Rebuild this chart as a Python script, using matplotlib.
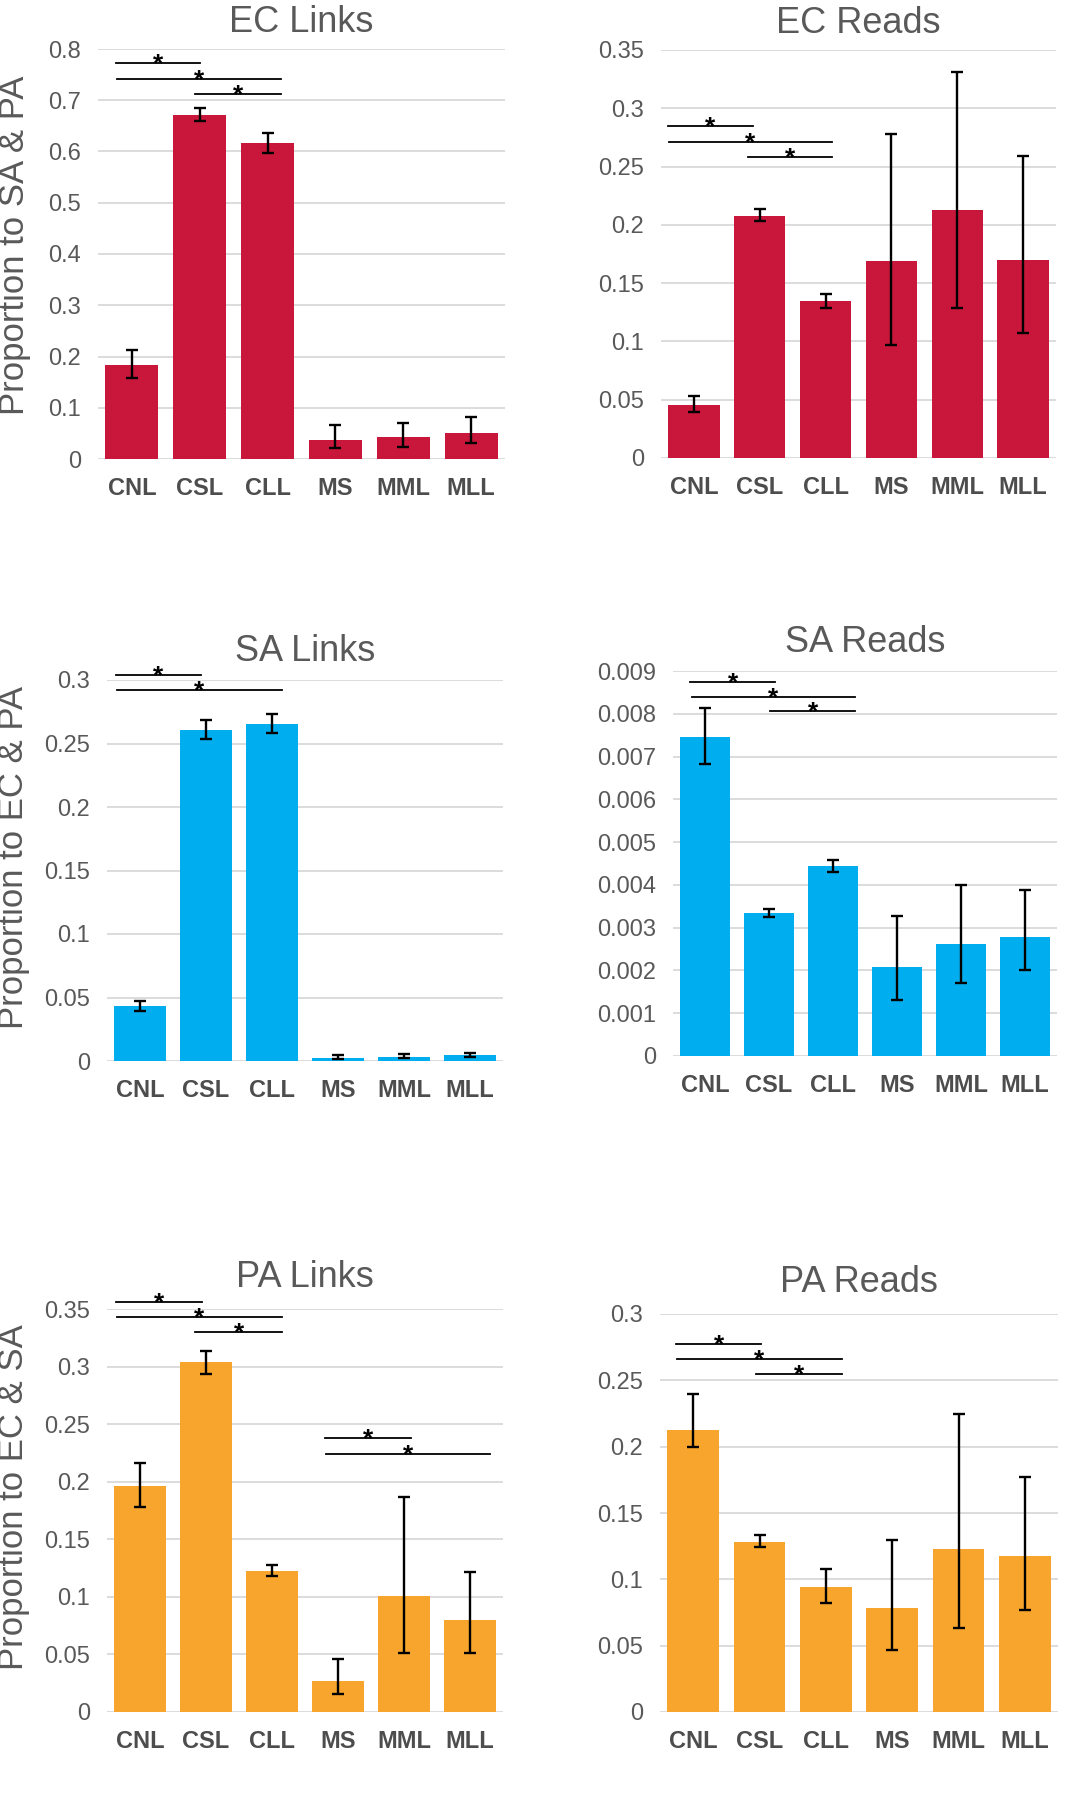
import matplotlib
matplotlib.use('Agg')
import matplotlib.pyplot as plt
from matplotlib.ticker import FuncFormatter

plt.rcParams['font.family'] = ['Liberation Sans', 'DejaVu Sans']

categories = ['CNL', 'CSL', 'CLL', 'MS', 'MML', 'MLL']

# bar heights with upper / lower ends of error bars
ec_links = [0.183, 0.671, 0.616, 0.037, 0.042, 0.050]
ec_links_hi = [0.213, 0.684, 0.636, 0.066, 0.071, 0.081]
ec_links_lo = [0.159, 0.659, 0.598, 0.021, 0.024, 0.031]

ec_reads = [0.0458, 0.208, 0.1345, 0.169, 0.213, 0.170]
ec_reads_hi = [0.0535, 0.214, 0.1408, 0.278, 0.331, 0.259]
ec_reads_lo = [0.0392, 0.203, 0.1285, 0.0967, 0.129, 0.107]

sa_links = [0.0433, 0.261, 0.2656, 0.0026, 0.0031, 0.0047]
sa_links_hi = [0.0472, 0.2685, 0.273, 0.0047, 0.0052, 0.0066]
sa_links_lo = [0.0394, 0.2533, 0.2585, 0.0016, 0.0021, 0.0031]

sa_reads = [0.00746, 0.00334, 0.00443, 0.00207, 0.00261, 0.00278]
sa_reads_hi = [0.00814, 0.00344, 0.00458, 0.00328, 0.00399, 0.00387]
sa_reads_lo = [0.00683, 0.00325, 0.00430, 0.00131, 0.00171, 0.00200]

pa_links = [0.196, 0.3036, 0.1223, 0.0267, 0.1005, 0.0797]
pa_links_hi = [0.2159, 0.3138, 0.1275, 0.0458, 0.1869, 0.1217]
pa_links_lo = [0.178, 0.2935, 0.1179, 0.0159, 0.0516, 0.0516]

pa_reads = [0.2127, 0.1285, 0.0943, 0.0787, 0.1227, 0.1174]
pa_reads_hi = [0.2399, 0.1335, 0.1081, 0.130, 0.2246, 0.1768]
pa_reads_lo = [0.1997, 0.1242, 0.0820, 0.0465, 0.0634, 0.0770]

# significance lines: (start, end, level)
ec_links_sig = [(-0.24, 1.01, 0.773), (-0.22, 2.20, 0.741), (0.93, 2.20, 0.712)]
ec_reads_sig = [(-0.40, 0.89, 0.285), (-0.38, 2.10, 0.271), (0.82, 2.10, 0.258)]
sa_links_sig = [(-0.37, 0.93, 0.3037), (-0.35, 2.15, 0.292)]
sa_reads_sig = [(-0.23, 1.10, 0.00875), (-0.21, 2.35, 0.0084), (1.02, 2.35, 0.00807)]
pa_links_sig = [(-0.37, 0.94, 0.3564), (-0.35, 2.15, 0.3428), (0.84, 2.15, 0.3297),
                (2.80, 4.10, 0.2382), (2.82, 5.31, 0.2245)]
pa_reads_sig = [(-0.26, 1.03, 0.2776), (-0.24, 2.24, 0.2661), (0.95, 2.24, 0.2545)]

RED = '#C8173A'
BLUE = '#00AEEF'
ORANGE = '#F7A52C'
GRID = '#D9D9D9'
TXT = '#595959'

panels = [
    # title, vals, hi, lo, sig, color, ymax, step, ylabel, rect(px), label pos, title pad
    ('EC Links', ec_links, ec_links_hi, ec_links_lo, ec_links_sig, RED, 0.8, 0.1,
     'Proportion to SA & PA', [98, 49, 505, 459], (-0.206, 0.522), 12.5),
    ('EC Reads', ec_reads, ec_reads_hi, ec_reads_lo, ec_reads_sig, RED, 0.35, 0.05,
     None, [661, 50, 1056, 458], None, 12.5),
    ('SA Links', sa_links, sa_links_hi, sa_links_lo, sa_links_sig, BLUE, 0.3, 0.05,
     'Proportion to EC & PA', [107, 680, 503, 1061], (-0.235, 0.535), 14),
    ('SA Reads', sa_reads, sa_reads_hi, sa_reads_lo, sa_reads_sig, BLUE, 0.009, 0.001,
     None, [673, 671, 1057, 1056], None, 14),
    ('PA Links', pa_links, pa_links_hi, pa_links_lo, pa_links_sig, ORANGE, 0.35, 0.05,
     'Proportion to EC & SA', [107, 1309, 503, 1712], (-0.235, 0.533), 16),
    ('PA Reads', pa_reads, pa_reads_hi, pa_reads_lo, pa_reads_sig, ORANGE, 0.3, 0.05,
     None, [660, 1314, 1058, 1712], None, 16),
]

W, H = 1086, 1800
fig = plt.figure(figsize=(W / 100, H / 100), dpi=100)

fmt = FuncFormatter(lambda v, p: '%g' % round(v, 6))

for (title, vals, hi, lo, sig, color, ymax, step, ylabel,
     (x0, y0, x1, y1), lab, tpad) in panels:
    ax = fig.add_axes([x0 / W, 1 - y1 / H, (x1 - x0) / W, (y1 - y0) / H])
    xs = list(range(len(categories)))
    err = [[v - l for v, l in zip(vals, lo)], [h - v for v, h in zip(vals, hi)]]
    ax.bar(xs, vals, width=0.78, color=color, zorder=2)
    ax.errorbar(xs, vals, yerr=err, fmt='none', ecolor='black', elinewidth=1.7,
                capsize=4, capthick=1.7, zorder=3)
    for a, b, y in sig:
        ax.plot([a, b], [y, y], color='black', lw=1.3, clip_on=False, zorder=4)
        ax.annotate('*', ((a + b) / 2, y), xytext=(0, -6), textcoords='offset points',
                    ha='center', va='baseline', fontsize=19, fontweight='bold',
                    annotation_clip=False)
    ax.set_xlim(-0.5, 5.5)
    n = int(round(ymax / step))
    ax.set_yticks([i * step for i in range(n + 1)])
    ax.set_ylim(0, ymax)
    ax.yaxis.set_major_formatter(fmt)
    ax.set_xticks(xs)
    ax.set_xticklabels(categories, fontsize=17, fontweight='bold', color='#4D4D4D')
    ax.tick_params(axis='y', length=0, pad=12, labelsize=17, labelcolor=TXT)
    ax.tick_params(axis='x', length=0, pad=13)
    ax.grid(axis='y', color=GRID, lw=1.3, zorder=0)
    ax.set_axisbelow(True)
    for s in ax.spines.values():
        s.set_visible(False)
    ax.set_title(title, fontsize=26, color=TXT, pad=tpad)
    if ylabel:
        ax.set_ylabel(ylabel, fontsize=25, color=TXT, va='center')
        ax.yaxis.set_label_coords(*lab)

fig.savefig('out.png', dpi=100)
